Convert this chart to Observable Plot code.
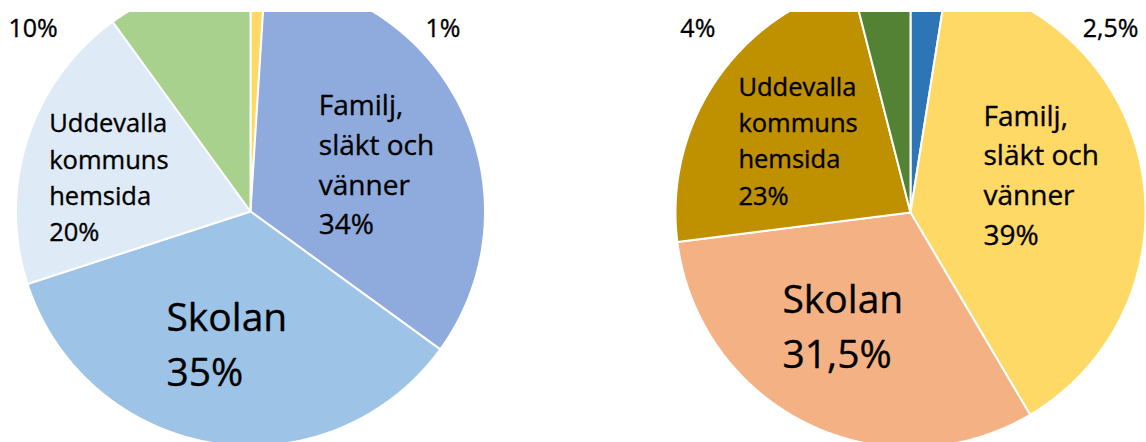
<!DOCTYPE html>
<html>
<head>
<meta charset="utf-8">
<script src="https://cdn.jsdelivr.net/npm/d3@7"></script>
<script src="https://cdn.jsdelivr.net/npm/@observablehq/plot@0.6"></script>
<style>
  html, body { margin: 0; padding: 0; background: #fff; }
  #wrap { display: flex; width: 1146px; height: 442px; overflow: hidden; }
</style>
</head>
<body>
<div id="wrap"></div>
<script>
// ---- data ----
const leftCategories = ["Övrigt", "Familj, släkt och vänner", "Skolan", "Uddevalla kommuns hemsida", "Annan källa"];
const leftValues = [1, 34, 35, 20, 10];
const leftLabels = ["1%", "Familj,\nsläkt och\nvänner\n34%", "Skolan\n35%", "Uddevalla\nkommuns\nhemsida\n20%", "10%"];
const leftColors = ["#FFD966", "#8FAADC", "#9DC3E6", "#DEEBF7", "#A9D18E"];

const rightCategories = ["Övrigt", "Familj, släkt och vänner", "Skolan", "Uddevalla kommuns hemsida", "Annan källa"];
const rightValues = [2.5, 39, 31.5, 23, 4];
const rightLabels = ["2,5%", "Familj,\nsläkt och\nvänner\n39%", "Skolan\n31,5%", "Uddevalla\nkommuns\nhemsida\n23%", "4%"];
const rightColors = ["#2E75B6", "#FFD966", "#F4B183", "#BF9000", "#548235"];

// ---- layout / style (label placement relative to slice mid-angle) ----
const leftLabelStyle = [
  {r: 1.0, dx: 185, dy: 49, size: 25, anchor: "middle"},
  {r: 0.6, dx: -59, dy: 10.5, size: 28, anchor: "start"},
  {r: 0.6, dx: -62, dy: -9.5, size: 39, anchor: "start"},
  {r: 0.6, dx: -67.5, dy: 7, size: 25.5, anchor: "start"},
  {r: 1.0, dx: -145, dy: 37, size: 25, anchor: "middle"}
];
const rightLabelStyle = [
  {r: 1.0, dx: 181.6, dy: 47.5, size: 25, anchor: "middle"},
  {r: 0.6, dx: -65.5, dy: -13.5, size: 28, anchor: "start"},
  {r: 0.6, dx: -66, dy: -16.5, size: 39, anchor: "start"},
  {r: 0.6, dx: -55.5, dy: 5.5, size: 25.5, anchor: "start"},
  {r: 1.0, dx: -183.2, dy: 46.5, size: 25, anchor: "middle"}
];

function pieGeometry(categories, values, labels, styles) {
  const arcs = d3.pie().sort(null).value(d => d)(values);
  const rows = [];
  const labelRows = [];
  arcs.forEach((a, i) => {
    rows.push({slice: categories[i], x: 0, y: 0});
    const n = Math.max(2, Math.ceil((a.endAngle - a.startAngle) / (Math.PI / 360)) + 1);
    for (let k = 0; k < n; k++) {
      const t = a.startAngle + (a.endAngle - a.startAngle) * k / (n - 1);
      rows.push({slice: categories[i], x: Math.sin(t), y: Math.cos(t)});
    }
    const mid = (a.startAngle + a.endAngle) / 2;
    const s = styles[i];
    labelRows.push({label: labels[i], x: s.r * Math.sin(mid), y: s.r * Math.cos(mid), style: s});
  });
  return {rows, labelRows};
}

function pieChart({categories, values, labels, colors, styles, width, cx, cy, R}) {
  const {rows, labelRows} = pieGeometry(categories, values, labels, styles);
  return Plot.plot({
    width, height: 442,
    marginTop: 12, marginLeft: 0, marginRight: 0, marginBottom: 0,
    style: {fontFamily: "Open Sans", background: "#fff"},
    x: {axis: null, domain: [-1, 1], range: [cx - R, cx + R]},
    y: {axis: null, domain: [-1, 1], range: [cy + R, cy - R]},
    color: {domain: categories, range: colors},
    marks: [
      Plot.line(rows, {x: "x", y: "y", z: "slice", fill: "slice", stroke: "white", strokeWidth: 2,
        curve: "linear-closed", clip: true}),
      ...labelRows.map(d => Plot.text([d], {
        x: "x", y: "y", text: "label",
        dx: d.style.dx, dy: d.style.dy, fontSize: d.style.size,
        textAnchor: d.style.anchor, lineAnchor: "middle", lineHeight: 1.42,
        fill: "#000", stroke: "#000", strokeWidth: 0.35, fontFamily: "Open Sans"
      }))
    ]
  });
}

const wrap = document.getElementById("wrap");
wrap.append(pieChart({categories: leftCategories, values: leftValues, labels: leftLabels,
  colors: leftColors, styles: leftLabelStyle, width: 573, cx: 250, cy: 211, R: 234.5}));
wrap.append(pieChart({categories: rightCategories, values: rightValues, labels: rightLabels,
  colors: rightColors, styles: rightLabelStyle, width: 573, cx: 337, cy: 212, R: 235}));
</script>
</body>
</html>
